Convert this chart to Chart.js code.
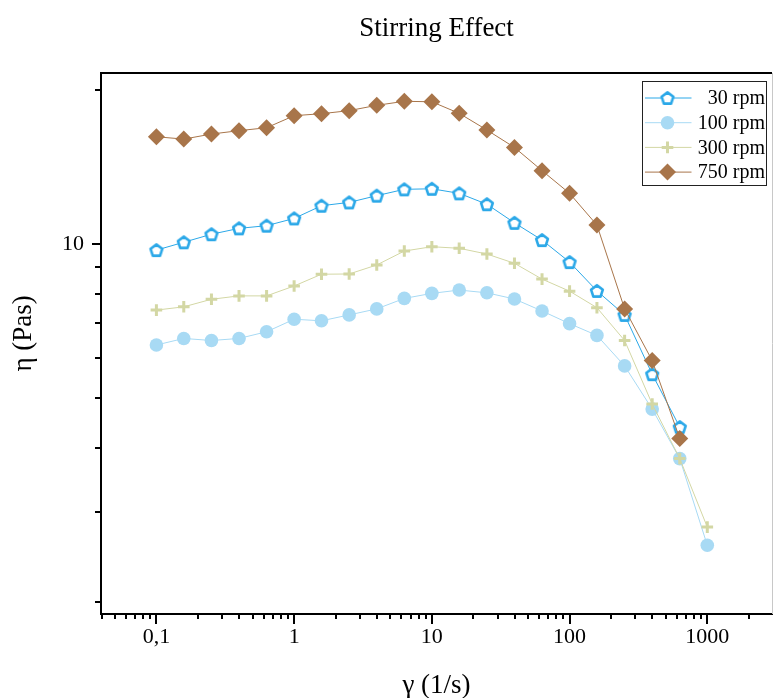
<!DOCTYPE html>
<html>
<head>
<meta charset="utf-8">
<title>Stirring Effect</title>
<style>
  html, body { margin: 0; padding: 0; background: #fff; }
  #chart-wrapper { width: 773px; height: 698px; }
</style>
</head>
<body>
<div id="chart-wrapper"><canvas id="myChart" width="773" height="698"></canvas></div>
<script src="https://cdn.jsdelivr.net/npm/chart.js@4/dist/chart.umd.min.js"></script>
<script>
// shear rate (1/s)
const rates = [0.1, 0.158, 0.251, 0.398, 0.631, 1, 1.58, 2.51, 3.98, 6.31, 10,
               15.8, 25.1, 39.8, 63.1, 100, 158, 251, 398, 631, 1000];

// viscosity (Pas) per stirring speed
const eta30  = [9.73, 10.08, 10.45, 10.73, 10.86, 11.22, 11.88, 12.06, 12.43, 12.79, 12.82,
                12.56, 11.96, 11.00, 10.18, 9.22, 8.10, 7.27, 5.57, 4.39];
const eta100 = [6.35, 6.54, 6.48, 6.54, 6.74, 7.13, 7.08, 7.27, 7.47, 7.83, 8.01,
                8.13, 8.03, 7.81, 7.40, 6.99, 6.63, 5.78, 4.76, 3.81, 2.58];
const eta300 = [7.43, 7.54, 7.80, 7.92, 7.92, 8.28, 8.73, 8.74, 9.10, 9.69, 9.88,
                9.81, 9.56, 9.17, 8.54, 8.09, 7.51, 6.48, 4.87, 3.81, 2.80];
const eta750 = [16.20, 16.03, 16.40, 16.65, 16.87, 17.81, 17.97, 18.22, 18.66, 19.00, 18.96,
                18.00, 16.70, 15.44, 13.91, 12.56, 10.89, 7.47, 5.92, 4.17];

const seriesNames = ['30 rpm', '100 rpm', '300 rpm', '750 rpm'];

const xTickValues = [0.1, 1, 10, 100, 1000];
const xTickLabels = ['0,1', '1', '10', '100', '1000'];
const yTickValues = [10];
const yTickLabels = ['10'];

const FONT = "'Liberation Serif', 'Times New Roman', serif";
const BLUE = '#2ba8e8';
const LIGHTBLUE = '#a8daf4';
const OLIVE = '#d3d7a4';
const BROWN = '#a8754a';

function toPoints(values) {
    return values.map((v, i) => ({ x: rates[i], y: v }));
}

// hollow pentagon marker
function pentagon(color, r, lw) {
    const size = Math.ceil(2 * (r + lw)) + 2;
    const c = document.createElement('canvas');
    c.width = size;
    c.height = size;
    const g = c.getContext('2d');
    g.beginPath();
    for (let i = 0; i < 5; i++) {
        const a = -Math.PI / 2 + i * 2 * Math.PI / 5;
        const px = size / 2 + r * Math.cos(a);
        const py = size / 2 + 0.6 + r * Math.sin(a);
        if (i === 0) g.moveTo(px, py); else g.lineTo(px, py);
    }
    g.closePath();
    g.fillStyle = '#fff';
    g.fill();
    g.lineWidth = lw;
    g.lineJoin = 'round';
    g.strokeStyle = color;
    g.stroke();
    return c;
}
const pentImg = pentagon(BLUE, 6.2, 2.6);

// log ticks (major + minor) and the frame
const axisTicks = {
    id: 'axisTicks',
    afterDraw(chart) {
        const { ctx, chartArea: a, scales: { x, y } } = chart;
        ctx.save();
        ctx.strokeStyle = '#000';
        ctx.lineWidth = 2;
        ctx.beginPath();
        ctx.moveTo(a.left - 1, a.top);
        ctx.lineTo(a.right, a.top);
        for (let e = -2; e <= 4; e++) {
            for (let k = 1; k <= 9; k++) {
                const v = k * Math.pow(10, e);
                if (v >= x.min && v <= x.max) {
                    const px = Math.round(x.getPixelForValue(v));
                    ctx.moveTo(px, a.bottom);
                    ctx.lineTo(px, a.bottom + (k === 1 ? 10 : 5));
                }
                if (v >= y.min && v <= y.max) {
                    const py = Math.round(y.getPixelForValue(v));
                    ctx.moveTo(a.left, py);
                    ctx.lineTo(a.left - (k === 1 ? 9 : 6), py);
                }
            }
        }
        ctx.stroke();
        ctx.strokeStyle = '#c8c8c8';
        ctx.lineWidth = 1;
        ctx.beginPath();
        ctx.moveTo(a.right + 0.5, a.top);
        ctx.lineTo(a.right + 0.5, a.bottom);
        ctx.stroke();
        ctx.restore();
    }
};

// boxed legend with line + marker, text right aligned
const boxLegend = {
    id: 'boxLegend',
    afterDraw(chart) {
        const { ctx, chartArea: a } = chart;
        const bx = a.right - 129.5, by = a.top + 8.5, bw = 124, bh = 104;
        ctx.save();
        ctx.fillStyle = '#fff';
        ctx.fillRect(bx, by, bw, bh);
        ctx.strokeStyle = '#222';
        ctx.lineWidth = 1;
        ctx.strokeRect(bx, by, bw, bh);
        ctx.font = '20px ' + FONT;
        ctx.textAlign = 'right';
        ctx.textBaseline = 'middle';
        chart.data.datasets.forEach((ds, i) => {
            const cy = by + 16.5 + i * 24.7;
            ctx.strokeStyle = ds.borderColor;
            ctx.lineWidth = 1;
            ctx.beginPath();
            ctx.moveTo(bx + 2.5, cy);
            ctx.lineTo(bx + 49, cy);
            ctx.stroke();
            ctx.fillStyle = ds.pointBackgroundColor || '#fff';
            ctx.strokeStyle = ds.pointBorderColor || ds.borderColor;
            ctx.lineWidth = ds.pointBorderWidth || 0;
            Chart.helpers.drawPoint(ctx, {
                pointStyle: ds.pointStyle,
                radius: ds.pointRadius,
                borderWidth: ds.pointBorderWidth || 0,
                rotation: 0
            }, bx + 25, cy);
            ctx.fillStyle = '#000';
            ctx.fillText(ds.label, bx + bw - 1.5, cy + 1);
        });
        ctx.restore();
    }
};

const chart = new Chart(
    document.getElementById('myChart'),
    {
        type: 'line',
        data: {
            datasets: [
                {
                    label: seriesNames[0],
                    data: toPoints(eta30),
                    borderColor: BLUE,
                    borderWidth: 1,
                    pointStyle: pentImg,
                    pointRadius: 7,
                    pointBorderWidth: 0,
                    order: 1
                },
                {
                    label: seriesNames[1],
                    data: toPoints(eta100),
                    borderColor: LIGHTBLUE,
                    borderWidth: 1,
                    pointStyle: 'circle',
                    pointRadius: 6.8,
                    pointBackgroundColor: LIGHTBLUE,
                    pointBorderColor: LIGHTBLUE,
                    pointBorderWidth: 0,
                    order: 3
                },
                {
                    label: seriesNames[2],
                    data: toPoints(eta300),
                    borderColor: OLIVE,
                    borderWidth: 1,
                    pointStyle: 'cross',
                    pointRadius: 5.8,
                    pointBorderColor: OLIVE,
                    pointBorderWidth: 3,
                    order: 2
                },
                {
                    label: seriesNames[3],
                    data: toPoints(eta750),
                    borderColor: BROWN,
                    borderWidth: 1,
                    pointStyle: 'rectRot',
                    pointRadius: 8.5,
                    pointBackgroundColor: BROWN,
                    pointBorderColor: BROWN,
                    pointBorderWidth: 0,
                    order: 0
                }
            ]
        },
        options: {
            responsive: false,
            animation: false,
            layout: { autoPadding: false, padding: { left: 0, right: 1, top: 0, bottom: 0 } },
            plugins: {
                legend: { display: false },
                tooltip: { enabled: false },
                title: {
                    display: true,
                    text: 'Stirring Effect',
                    fullSize: false,
                    color: '#000',
                    font: { family: FONT, size: 27, weight: 'normal', lineHeight: 1.2 },
                    padding: { top: 13, bottom: 27.6 }
                }
            },
            scales: {
                x: {
                    type: 'logarithmic',
                    min: 0.0396,
                    max: 2950,
                    afterBuildTicks: s => { s.ticks = xTickValues.map(v => ({ value: v })); },
                    afterFit: s => {
                        s.height = 84;
                        s.paddingLeft = 0;
                        s.paddingRight = 0;
                    },
                    grid: { display: false, drawTicks: false },
                    border: { display: true, color: '#000', width: 2 },
                    ticks: {
                        autoSkip: false,
                        maxRotation: 0,
                        padding: 10,
                        color: '#000',
                        font: { family: FONT, size: 22 },
                        callback: (v, i) => xTickLabels[i]
                    },
                    title: {
                        display: true,
                        text: 'γ (1/s)',
                        color: '#000',
                        font: { family: FONT, size: 27, lineHeight: 1 },
                        padding: { top: 0, bottom: -1.5 }
                    }
                },
                y: {
                    type: 'logarithmic',
                    min: 1.894,
                    max: 21.58,
                    afterBuildTicks: s => { s.ticks = yTickValues.map(v => ({ value: v })); },
                    afterFit: s => {
                        s.width = 101;
                        s.paddingTop = 0;
                        s.paddingBottom = 0;
                    },
                    grid: { display: false, drawTicks: false },
                    border: { display: true, color: '#000', width: 2 },
                    ticks: {
                        autoSkip: false,
                        padding: 17,
                        color: '#000',
                        font: { family: FONT, size: 22 },
                        callback: (v, i) => yTickLabels[i]
                    },
                    title: {
                        display: true,
                        text: '\u2002 η (Pas)',
                        color: '#000',
                        font: { family: FONT, size: 27, lineHeight: 1 },
                        padding: { top: 10.5, bottom: 0 }
                    }
                }
            }
        },
        plugins: [axisTicks, boxLegend]
    }
);
</script>
</body>
</html>
